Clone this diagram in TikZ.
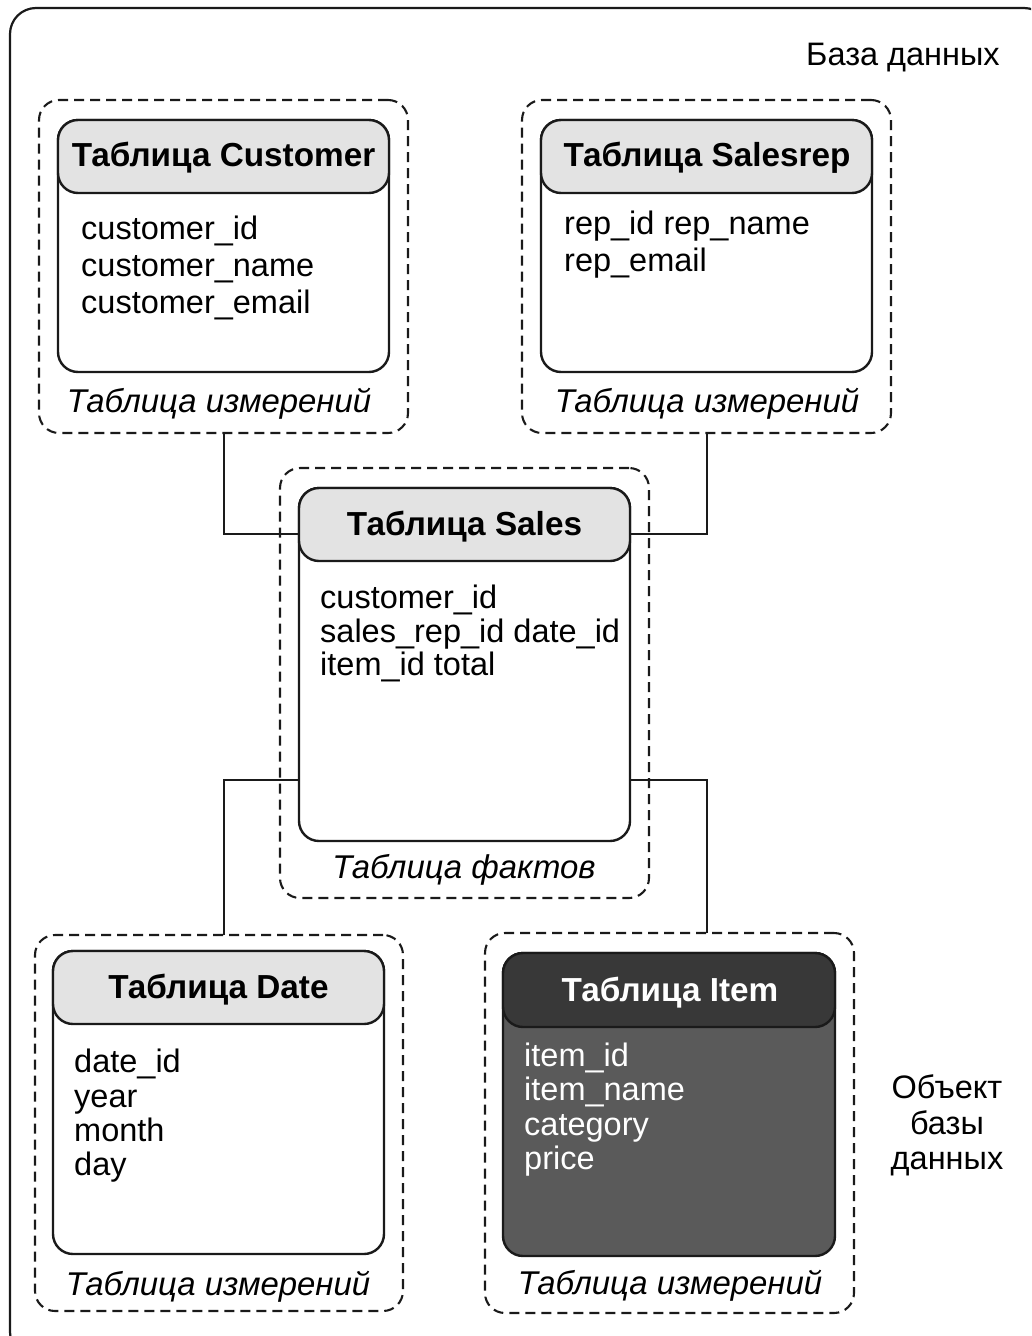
\documentclass[tikz,border=0pt]{standalone}
\usepackage{fontspec}
\setmainfont{Liberation Sans}
\definecolor{hdr}{HTML}{E3E3E3}
\definecolor{darkhdr}{HTML}{383838}
\definecolor{darkbody}{HTML}{5A5A5A}
\definecolor{ink}{HTML}{1A1A1A}
\tikzset{
  grp/.style={draw=ink, line width=2.1pt, dash pattern=on 10pt off 6pt, rounded corners=20pt, inner sep=0pt},
  tbody/.style={draw=ink, line width=2.4pt, rounded corners=20pt, fill=white, inner sep=0pt},
  thead/.style={draw=ink, line width=2.4pt, rounded corners=20pt, fill=hdr, inner sep=0pt},
  htext/.style={anchor=base, inner sep=0pt, font=\fontsize{33.3}{36}\selectfont\bfseries},
  field/.style={anchor=base west, inner sep=0pt, font=\fontsize{32.5}{36}\selectfont},
  captext/.style={anchor=base, inner sep=0pt, font=\fontsize{32.9}{36}\selectfont\itshape},
  lbl/.style={inner sep=0pt, font=\fontsize{32.5}{36}\selectfont},
  conn/.style={draw=ink, line width=2pt},
}
\begin{document}
\begin{tikzpicture}[x=1pt,y=-1pt]
\clip (0,0) rectangle (1031,1336);
\useasboundingbox (0,0) rectangle (1031,1336);
% outer database frame
\node[draw=ink, line width=2.2pt, rounded corners=26pt, minimum width=1040pt, minimum height=1350pt, inner sep=0pt] (db) at (530,683) {};
\node[lbl, anchor=base east] (dblbl) at (1000,65) {База данных};

% ---------- Customer ----------
\node[grp, minimum width=369pt, minimum height=333pt] (custgrp) at (223.5,266.5) {};
\node[tbody, minimum width=331pt, minimum height=252pt] (custbody) at (223.5,246) {};
\node[thead, minimum width=331pt, minimum height=73pt] (custhead) at (223.5,156.5) {};
\node[htext] (custtitle) at (223.5,166) {Таблица Customer};
\node[field] (cf1) at (81,239) {customer\_id};
\node[field] (cf2) at (81,276) {customer\_name};
\node[field] (cf3) at (81,313) {customer\_email};
\node[captext] (custcap) at (219,412) {Таблица измерений};

% ---------- Salesrep ----------
\node[grp, minimum width=369pt, minimum height=333pt] (repgrp) at (706.5,266.5) {};
\node[tbody, minimum width=331pt, minimum height=252pt] (repbody) at (706.5,246) {};
\node[thead, minimum width=331pt, minimum height=73pt] (rephead) at (706.5,156.5) {};
\node[htext] (reptitle) at (707,166) {Таблица Salesrep};
\node[field] (rf1) at (564,234) {rep\_id rep\_name};
\node[field] (rf2) at (564,271) {rep\_email};
\node[captext] (repcap) at (707,412) {Таблица измерений};

% ---------- Sales ----------
\node[grp, minimum width=369pt, minimum height=430pt] (salesgrp) at (464.5,683) {};
\node[tbody, minimum width=331pt, minimum height=353pt] (salesbody) at (464.5,664.5) {};
\node[thead, minimum width=331pt, minimum height=73pt] (saleshead) at (464.5,524.5) {};
\node[htext] (salestitle) at (464.5,535) {Таблица Sales};
\node[field] (sf1) at (320,608) {customer\_id};
\node[field] (sf2) at (320,642) {sales\_rep\_id date\_id};
\node[field] (sf3) at (320,675) {item\_id total};
\node[captext] (salescap) at (464,878) {Таблица фактов};

% ---------- Date ----------
\node[grp, minimum width=368pt, minimum height=376pt] (dategrp) at (219,1123) {};
\node[tbody, minimum width=331pt, minimum height=303pt] (datebody) at (218.5,1102.5) {};
\node[thead, minimum width=331pt, minimum height=73pt] (datehead) at (218.5,987.5) {};
\node[htext] (datetitle) at (218.5,998) {Таблица Date};
\node[field] (df1) at (74,1072) {date\_id};
\node[field] (df2) at (74,1107) {year};
\node[field] (df3) at (74,1141) {month};
\node[field] (df4) at (74,1175) {day};
\node[captext] (datecap) at (218,1295) {Таблица измерений};

% ---------- Item ----------
\node[grp, minimum width=369pt, minimum height=380pt] (itemgrp) at (669.5,1123) {};
\node[tbody, fill=darkbody, minimum width=332pt, minimum height=303pt] (itembody) at (669,1104.5) {};
\node[thead, fill=darkhdr, minimum width=332pt, minimum height=74pt] (itemhead) at (669,990) {};
\node[htext, text=white] (itemtitle) at (670,1001) {Таблица Item};
\node[field, text=white] (if1) at (524,1066) {item\_id};
\node[field, text=white] (if2) at (524,1100) {item\_name};
\node[field, text=white] (if3) at (524,1135) {category};
\node[field, text=white] (if4) at (524,1169) {price};
\node[captext] (itemcap) at (670,1294) {Таблица измерений};

% side label
\node[lbl, anchor=base] (obj1) at (947,1098) {Объект};
\node[lbl, anchor=base] (obj2) at (947,1134) {базы};
\node[lbl, anchor=base] (obj3) at (947,1169) {данных};

% ---------- connectors ----------
\coordinate (cs) at (299,534);
\coordinate (rs) at (630,534);
\coordinate (ds) at (299,780);
\coordinate (is) at (630,780);
\coordinate (dtop) at (224,935);
\coordinate (itop) at (707,933);
\draw[conn] (custgrp.south) |- (cs);
\draw[conn] (repgrp.south) |- (rs);
\draw[conn] (ds) -| (dtop);
\draw[conn] (is) -| (itop);
\end{tikzpicture}
\end{document}
